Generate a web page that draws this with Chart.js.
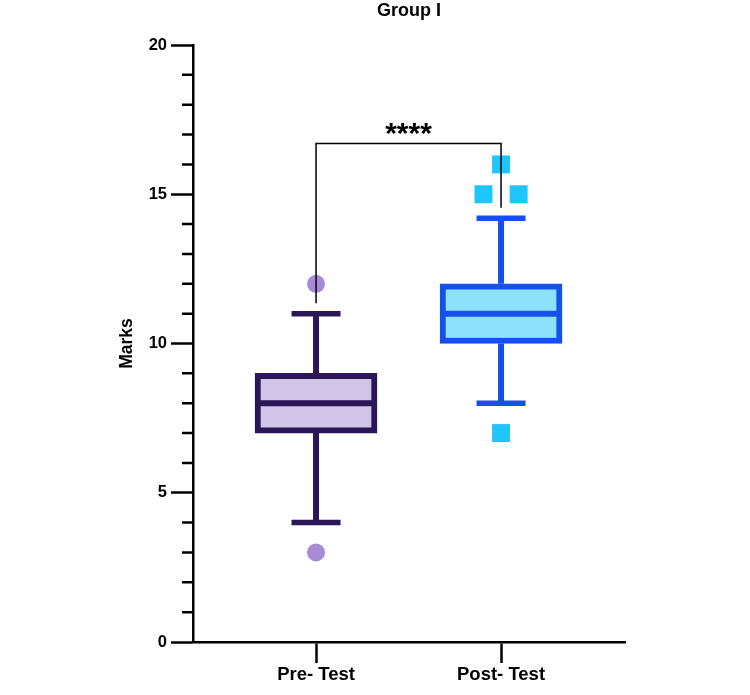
<!DOCTYPE html>
<html lang="en">
<head>
<meta charset="UTF-8">
<title>Group I</title>
<style>
  html, body { margin: 0; padding: 0; background: #fff; }
  #wrap { width: 750px; height: 695px; }
</style>
</head>
<body>
<div id="wrap"><canvas id="box-chart" width="750" height="695"></canvas></div>
<script src="https://cdn.jsdelivr.net/npm/chart.js"></script>
<script>
// values
const categories = ['Pre- Test', 'Post- Test'];
const whiskerLow = [4, 8];
const q1 = [7, 10];
const median = [8, 11];
const q3 = [9, 12];
const whiskerHigh = [11, 14.2];
const preOutliers = [12, 3];
const postOutliers = [16, 15, 15, 7];
const yTicks = [0, 5, 10, 15, 20];
const sigText = '****';
const sigLevel = 16.7;
const sigLegEnds = [11.35, 14.55];

const boxBorder = ['#2b1657', '#1550e8'];
const boxFill = ['#d0c4e7', '#8ee1fb'];
const dotColor = ['#a88bd6', '#1ec6fb'];
const FONT = '"Liberation Sans", Arial, sans-serif';

// duplicates are spread side by side, like the original
function spread(values, pos) {
    const count = {};
    values.forEach(v => count[v] = (count[v] || 0) + 1);
    const used = {};
    return values.map(v => {
        used[v] = (used[v] || 0) + 1;
        return { x: pos + (used[v] - 1 - (count[v] - 1) / 2) * 0.19, y: v };
    });
}

const boxExtras = {
    id: 'boxExtras',
    afterDatasetsDraw(chart) {
        const { ctx, scales: { x, y } } = chart;
        const bars = chart.getDatasetMeta(0).data;
        ctx.save();
        ctx.lineCap = 'butt';
        categories.forEach((c, i) => {
            const cx = x.getPixelForValue(i + 1);
            const half = bars[i].width / 2;
            ctx.strokeStyle = boxBorder[i];
            ctx.lineWidth = 6;
            ctx.beginPath();
            ctx.moveTo(cx, y.getPixelForValue(q3[i]));
            ctx.lineTo(cx, y.getPixelForValue(whiskerHigh[i]));
            ctx.moveTo(cx, y.getPixelForValue(q1[i]));
            ctx.lineTo(cx, y.getPixelForValue(whiskerLow[i]));
            ctx.stroke();
            ctx.lineWidth = 5.5;
            ctx.beginPath();
            [whiskerLow[i], whiskerHigh[i]].forEach(v => {
                const py = y.getPixelForValue(v);
                ctx.moveTo(cx - 24.5, py);
                ctx.lineTo(cx + 24.5, py);
            });
            ctx.stroke();
            ctx.lineWidth = 6;
            ctx.beginPath();
            const my = y.getPixelForValue(median[i]);
            ctx.moveTo(cx - half, my);
            ctx.lineTo(cx + half, my);
            ctx.stroke();
        });

        // significance bracket
        const x1 = x.getPixelForValue(1), x2 = x.getPixelForValue(2);
        const top = y.getPixelForValue(sigLevel);
        ctx.strokeStyle = '#000';
        ctx.lineWidth = 1.5;
        ctx.beginPath();
        ctx.moveTo(x1, y.getPixelForValue(sigLegEnds[0]));
        ctx.lineTo(x1, top);
        ctx.lineTo(x2, top);
        ctx.lineTo(x2, y.getPixelForValue(sigLegEnds[1]));
        ctx.stroke();
        ctx.fillStyle = '#000';
        ctx.font = 'bold 30px ' + FONT;
        ctx.textAlign = 'center';
        ctx.textBaseline = 'alphabetic';
        ctx.fillText(sigText, (x1 + x2) / 2, top - 1);
        ctx.restore();
    },
    afterDraw(chart) {
        // minor ticks on the y axis
        const { ctx, scales: { y } } = chart;
        ctx.save();
        ctx.strokeStyle = '#000';
        ctx.lineWidth = 2.5;
        ctx.beginPath();
        for (let v = y.min; v <= y.max; v++) {
            if (v % 5 === 0) continue;
            const py = y.getPixelForValue(v);
            ctx.moveTo(y.right - 11, py);
            ctx.lineTo(y.right, py);
        }
        ctx.stroke();
        ctx.restore();
    }
};

const ctx = document.getElementById('box-chart').getContext('2d');
window.boxChart = new Chart(ctx, {
    type: 'bar',
    data: {
        datasets: [
            {
                type: 'bar',
                data: categories.map((c, i) => ({ x: i + 1, y: [q1[i], q3[i]] })),
                backgroundColor: boxFill,
                borderColor: boxBorder,
                borderWidth: 6,
                borderSkipped: false,
                barThickness: 122
            },
            {
                type: 'scatter',
                data: spread(preOutliers, 1),
                pointStyle: 'circle',
                pointRadius: 9,
                backgroundColor: dotColor[0],
                borderWidth: 0
            },
            {
                type: 'scatter',
                data: spread(postOutliers, 2),
                pointStyle: 'rect',
                pointRadius: 12.7,
                backgroundColor: dotColor[1],
                borderWidth: 0
            }
        ]
    },
    options: {
        responsive: false,
        animation: false,
        layout: { padding: { left: 110, right: 125, top: 0, bottom: 0 } },
        plugins: {
            legend: { display: false },
            tooltip: { enabled: false },
            title: {
                display: true,
                text: 'Group I',
                fullSize: false,
                color: '#000',
                font: { family: FONT, size: 18, weight: 'bold' },
                padding: { top: 0, bottom: 23.4 }
            }
        },
        scales: {
            x: {
                type: 'linear',
                min: 0.335,
                max: 2.67,
                offset: false,
                afterBuildTicks: s => { s.ticks = categories.map((c, i) => ({ value: i + 1 })); },
                afterFit: s => { s.height = 53; },
                ticks: {
                    callback: (v, i) => categories[i],
                    color: '#000',
                    font: { family: FONT, size: 18.5, weight: 'bold' },
                    padding: 1,
                    maxRotation: 0,
                    autoSkip: false
                },
                grid: { offset: false, drawOnChartArea: false, tickLength: 21, tickWidth: 2.5, tickColor: '#000' },
                border: { color: '#000', width: 2.5 }
            },
            y: {
                min: 0,
                max: 20,
                afterBuildTicks: s => { s.ticks = yTicks.map(v => ({ value: v })); },
                afterFit: s => { s.width = 83; },
                ticks: {
                    color: '#000',
                    font: { family: FONT, size: 16.5, weight: 'bold' },
                    padding: 4
                },
                grid: { drawOnChartArea: false, tickLength: 22, tickWidth: 2.5, tickColor: '#000' },
                border: { color: '#000', width: 2.5 },
                title: {
                    display: true,
                    text: 'Marks',
                    color: '#000',
                    font: { family: FONT, size: 17.5, weight: 'bold' },
                    padding: { top: 6.5, bottom: 0 }
                }
            }
        }
    },
    plugins: [boxExtras]
});
</script>
</body>
</html>
